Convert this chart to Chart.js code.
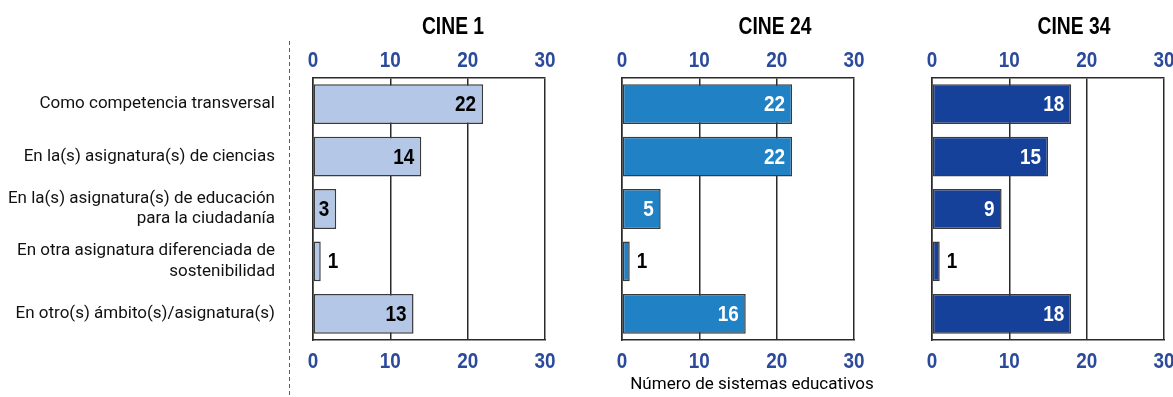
<!DOCTYPE html>
<html>
<head>
<meta charset="utf-8">
<script src="https://cdn.jsdelivr.net/npm/chart.js@4.4.0/dist/chart.umd.min.js"></script>
<style>
  html, body { margin: 0; padding: 0; background: #fff; }
  #wrap { position: relative; width: 1173px; height: 397px; }
  #wrap canvas { position: absolute; left: 0; top: 0; }
</style>
</head>
<body>
<div id="wrap">
  <canvas id="c1" width="1173" height="397"></canvas>
  <canvas id="c2" width="1173" height="397"></canvas>
  <canvas id="c3" width="1173" height="397"></canvas>
</div>
<script>
const categories = [
  "Como competencia transversal",
  "En la(s) asignatura(s) de ciencias",
  ["En la(s) asignatura(s) de educación", "para la ciudadanía"],
  ["En otra asignatura diferenciada de", "sostenibilidad"],
  "En otro(s) ámbito(s)/asignatura(s)"
];
const panelTitles = ["CINE 1", "CINE 24", "CINE 34"];
const cine1 = [22, 14, 3, 1, 13];
const cine24 = [22, 22, 5, 1, 16];
const cine34 = [18, 15, 9, 1, 18];
const tickValues = [0, 10, 20, 30];
const axisTitle = "Número de sistemas educativos";

const BOLD = '"Liberation Sans", Arial, sans-serif';
const TICKBLUE = '#2B4A9C';

const panels = [
  { id: 'c1', data: cine1, title: panelTitles[0], color: '#B4C7E7', inColor: '#000', left: 313, right: 545, titleX: 453, showCats: true },
  { id: 'c2', data: cine24, title: panelTitles[1], color: '#2081C5', inColor: '#fff', left: 622, right: 854, titleX: 775, showAxisTitle: true },
  { id: 'c3', data: cine34, title: panelTitles[2], color: '#16419A', inColor: '#fff', left: 932, right: 1164, titleX: 1074 }
];

// draw horizontally condensed text (emulates a narrow bold face)
function narrowText(ctx, text, x, y, align, size, color, sx) {
  ctx.save();
  ctx.font = 'bold ' + size + 'px ' + BOLD;
  ctx.fillStyle = color;
  ctx.textBaseline = 'middle';
  ctx.textAlign = align;
  ctx.translate(x, y);
  ctx.scale(sx, 1);
  ctx.fillText(text, 0, 0);
  ctx.restore();
}

const decoPlugin = {
  id: 'deco',
  afterDraw(chart, args, opts) {
    const ctx = chart.ctx;
    const p = opts.panel;
    ctx.save();
    // panel title
    narrowText(ctx, p.title, p.titleX, 28, 'center', 23.5, '#000', 0.82);
    // tick labels, top and bottom, positioned by the library's scales
    const xs = chart.scales.x, xb = chart.scales.x2;
    xs.ticks.forEach(t => {
      narrowText(ctx, String(t.value), xs.getPixelForValue(t.value), 61, 'center', 22, TICKBLUE, 0.86);
    });
    xb.ticks.forEach(t => {
      narrowText(ctx, String(t.value), xb.getPixelForValue(t.value), 362, 'center', 22, TICKBLUE, 0.86);
    });
    // data labels
    const meta = chart.getDatasetMeta(0);
    meta.data.forEach((bar, i) => {
      const v = p.data[i];
      if (v <= 1) {
        narrowText(ctx, String(v), bar.x + 7, bar.y + 1, 'left', 22, '#000', 0.86);
      } else {
        narrowText(ctx, String(v), bar.x - 7, bar.y + 1, 'right', 22, p.inColor, 0.86);
      }
    });
    if (p.showCats) {
      ctx.strokeStyle = '#4A5AA8';
      ctx.lineWidth = 1;
      ctx.setLineDash([4, 3]);
      ctx.beginPath();
      ctx.moveTo(289.5, 41);
      ctx.lineTo(289.5, 397);
      ctx.stroke();
      ctx.setLineDash([]);
    }
    if (p.showAxisTitle) {
      ctx.font = '17px Roboto, sans-serif';
      ctx.fillStyle = '#000';
      ctx.textAlign = 'center';
      ctx.textBaseline = 'middle';
      ctx.fillText(axisTitle, 752, 385);
    }
    ctx.restore();
  }
};

function makeChart(p) {
  const tickCfg = { display: false, stepSize: 10 };
  return new Chart(document.getElementById(p.id), {
    type: 'bar',
    data: {
      labels: categories,
      datasets: [{
        data: p.data,
        backgroundColor: p.color,
        borderColor: '#3a3a3a',
        borderWidth: 1.5,
        borderSkipped: false,
        barPercentage: 0.76,
        categoryPercentage: 1
      }]
    },
    options: {
      indexAxis: 'y',
      responsive: false,
      animation: false,
      events: [],
      layout: { padding: { left: p.showCats ? 0 : p.left, right: 1173 - p.right, top: 48, bottom: 27 } },
      plugins: {
        legend: { display: false },
        tooltip: { enabled: false },
        title: { display: false },
        deco: { panel: p }
      },
      scales: {
        x: {
          type: 'linear',
          position: 'top',
          min: 0, max: 30,
          afterBuildTicks: s => { s.ticks = tickValues.map(v => ({ value: v })); },
          afterFit: s => { s.height = 30; },
          grid: { display: true, color: '#2a2a2a', lineWidth: 1.5, drawTicks: false },
          border: { display: true, color: '#2a2a2a', width: 1.5 },
          ticks: tickCfg
        },
        x2: {
          type: 'linear',
          position: 'bottom',
          min: 0, max: 30,
          afterBuildTicks: s => { s.ticks = tickValues.map(v => ({ value: v })); },
          afterFit: s => { s.height = 30; },
          grid: { display: false, drawTicks: false },
          border: { display: true, color: '#2a2a2a', width: 1.5 },
          ticks: tickCfg
        },
        y: {
          type: 'category',
          position: 'left',
          afterFit: s => { s.width = p.showCats ? p.left : 0; },
          grid: { display: false, drawTicks: false },
          border: { display: true, color: '#2a2a2a', width: 1.5 },
          ticks: {
            display: !!p.showCats,
            color: '#111',
            font: { family: 'Roboto, sans-serif', size: 17 },
            padding: 38,
            autoSkip: false
          }
        }
      }
    },
    plugins: [decoPlugin]
  });
}

panels.forEach(makeChart);
</script>
</body>
</html>
